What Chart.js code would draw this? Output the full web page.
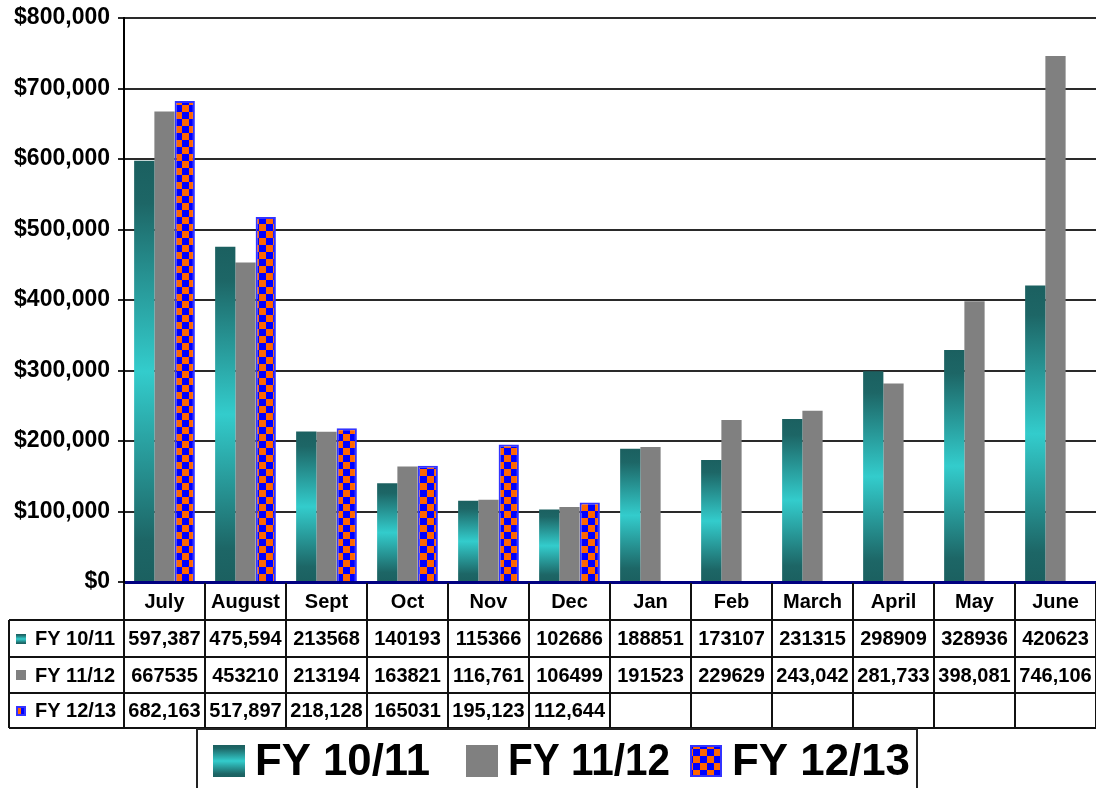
<!DOCTYPE html>
<html>
<head>
<meta charset="utf-8">
<title>Monthly revenue by fiscal year</title>
<script src="https://cdn.jsdelivr.net/npm/chart.js@4.4.1/dist/chart.umd.min.js"></script>
<style>
  html, body { margin: 0; padding: 0; background: #fff; }
  #chart { display: block; }
</style>
</head>
<body>
<canvas id="chart" width="1096" height="788"></canvas>
<script>
const months = ['July', 'August', 'Sept', 'Oct', 'Nov', 'Dec', 'Jan', 'Feb', 'March', 'April', 'May', 'June'];
const seriesNames = ['FY 10/11', 'FY 11/12', 'FY 12/13'];

const fy1011 = [597387, 475594, 213568, 140193, 115366, 102686, 188851, 173107, 231315, 298909, 328936, 420623];
const fy1112 = [667535, 453210, 213194, 163821, 116761, 106499, 191523, 229629, 243042, 281733, 398081, 746106];
const fy1213 = [682163, 517897, 218128, 165031, 195123, 112644, null, null, null, null, null, null];

// the data table below the chart prints some numbers with a comma and some without
const comma1011 = [true, true, false, false, false, false, false, false, false, false, false, false];
const comma1112 = [false, false, false, false, true, false, false, false, true, true, true, true];
const comma1213 = [true, true, true, false, true, true];

const yTicks = [0, 100000, 200000, 300000, 400000, 500000, 600000, 700000, 800000];

const FONT = '"Liberation Sans", Arial, Helvetica, sans-serif';
Chart.defaults.font.family = FONT;

function makeChecker() {
    const c = document.createElement('canvas');
    c.width = 14;
    c.height = 14;
    const g = c.getContext('2d');
    g.fillStyle = '#0000ff';
    g.fillRect(0, 0, 14, 14);
    g.fillStyle = '#ff6600';
    g.fillRect(7, 0, 7, 7);
    g.fillRect(0, 7, 7, 7);
    return document.getElementById('chart').getContext('2d').createPattern(c, 'repeat');
}
const checker = makeChecker();

function tealGradient(ctx, top, bottom) {
    const g = ctx.createLinearGradient(0, top, 0, bottom);
    g.addColorStop(0, '#1b6060');
    g.addColorStop(0.1, '#1d6666');
    g.addColorStop(0.5, '#33cccc');
    g.addColorStop(0.9, '#1d6666');
    g.addColorStop(1, '#1b6060');
    return g;
}

function tealBar(context) {
    const chart = context.chart;
    if (!chart.chartArea || context.raw == null) return '#2a9a9a';
    const y = chart.scales.y;
    return tealGradient(chart.ctx, y.getPixelForValue(context.raw), y.getPixelForValue(0));
}

function fmt(v, withComma) {
    return withComma ? v.toLocaleString('en-US') : String(v);
}

function drawSwatch(ctx, i, x, y, s) {
    if (i === 0) {
        ctx.fillStyle = tealGradient(ctx, y, y + s);
        ctx.fillRect(x, y, s, s);
    } else if (i === 1) {
        ctx.fillStyle = '#808080';
        ctx.fillRect(x, y, s, s);
    } else {
        ctx.fillStyle = checker;
        ctx.fillRect(x, y, s, s);
        ctx.strokeStyle = '#3333ff';
        ctx.lineWidth = 2;
        ctx.strokeRect(x + 1, y + 1, s - 2, s - 2);
    }
}

// data table under the x axis plus the boxed legend at the bottom
const tablePlugin = {
    id: 'dataTable',
    afterDraw(chart) {
        const ctx = chart.ctx;
        const x = chart.scales.x;
        const colW = (x.right - x.left) / months.length;
        const top = chart.chartArea.bottom + 1;
        const rows = [top, top + 37, top + 74, top + 110, top + 145];
        const labelLeft = 9;
        const values = [fy1011, fy1112, fy1213];
        const commas = [comma1011, comma1112, comma1213];

        ctx.save();
        ctx.strokeStyle = '#111';
        ctx.lineWidth = 2;

        // horizontal lines
        ctx.beginPath();
        for (let r = 1; r < rows.length; r++) {
            ctx.moveTo(labelLeft, rows[r]);
            ctx.lineTo(x.right, rows[r]);
        }
        // vertical lines
        ctx.moveTo(labelLeft, rows[1]);
        ctx.lineTo(labelLeft, rows[4]);
        for (let i = 0; i <= months.length; i++) {
            const px = Math.round(x.left + i * colW);
            ctx.moveTo(px, rows[0]);
            ctx.lineTo(px, rows[4]);
        }
        ctx.stroke();

        ctx.fillStyle = '#000';
        ctx.font = 'bold 20px ' + FONT;
        ctx.textBaseline = 'middle';
        ctx.textAlign = 'center';
        months.forEach((m, i) => {
            const cx = x.getPixelForValue(i);
            ctx.fillText(m, cx, (rows[0] + rows[1]) / 2 + 1);
        });
        values.forEach((arr, s) => {
            const cy = (rows[s + 1] + rows[s + 2]) / 2 + 1;
            arr.forEach((v, i) => {
                if (v == null) return;
                ctx.fillStyle = '#000';
                ctx.fillText(fmt(v, commas[s][i]), x.getPixelForValue(i), cy, colW - 4);
            });
        });

        // row labels
        ctx.textAlign = 'left';
        seriesNames.forEach((name, s) => {
            const cy = (rows[s + 1] + rows[s + 2]) / 2;
            drawSwatch(ctx, s, 16, Math.round(cy - 5), 10);
            ctx.fillStyle = '#000';
            ctx.fillText(name, 35, cy + 1);
        });

        // legend box
        ctx.strokeStyle = '#222';
        ctx.lineWidth = 2;
        ctx.strokeRect(197, 729, 720, 70);
        const swatchX = [213, 466, 690];
        const textW = [175, 162, 178];
        ctx.font = 'bold 44px ' + FONT;
        seriesNames.forEach((name, s) => {
            drawSwatch(ctx, s, swatchX[s], 745, 32);
            ctx.fillStyle = '#000';
            ctx.fillText(name, swatchX[s] + 42, 763, textW[s]);
        });
        ctx.restore();
    }
};

new Chart(document.getElementById('chart'), {
    type: 'bar',
    data: {
        labels: months,
        datasets: [{
            label: seriesNames[0],
            data: fy1011,
            backgroundColor: tealBar,
            borderWidth: 0
        }, {
            label: seriesNames[1],
            data: fy1112,
            backgroundColor: '#808080',
            borderWidth: 0
        }, {
            label: seriesNames[2],
            data: fy1213,
            backgroundColor: checker,
            borderColor: '#3333ff',
            borderWidth: 2
        }]
    },
    options: {
        responsive: false,
        animation: false,
        layout: {
            padding: { top: 18, bottom: 206, left: 0, right: 0 }
        },
        datasets: {
            bar: { categoryPercentage: 0.75, barPercentage: 1.0 }
        },
        scales: {
            x: {
                ticks: { display: false },
                grid: { display: false, drawTicks: false },
                border: { color: '#000080', width: 3 },
                afterFit(scale) { scale.height = 0; }
            },
            y: {
                min: 0,
                max: 800000,
                afterBuildTicks(scale) {
                    scale.ticks = yTicks.map(v => ({ value: v }));
                },
                ticks: {
                    color: '#000',
                    padding: 8,
                    font: { size: 23, weight: 'bold' },
                    callback: v => '$' + v.toLocaleString('en-US')
                },
                grid: { color: '#2a2a2a', lineWidth: 2, tickLength: 6 },
                border: { color: '#000', width: 2 },
                afterFit(scale) {
                    scale.width = 124;
                    scale.paddingTop = 0;
                    scale.paddingBottom = 0;
                }
            }
        },
        plugins: {
            legend: { display: false },
            tooltip: { enabled: false }
        }
    },
    plugins: [tablePlugin]
});
</script>
</body>
</html>
